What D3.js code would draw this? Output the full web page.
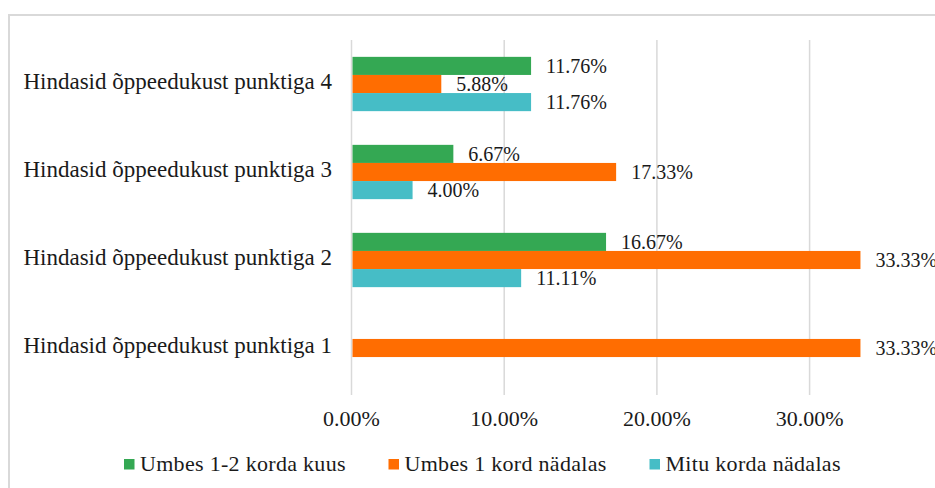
<!DOCTYPE html>
<html>
<head>
<meta charset="utf-8">
<script src="https://cdn.jsdelivr.net/npm/d3@7"></script>
<style>
  body { margin: 0; background: #fff; }
</style>
</head>
<body>
<div id="chart"></div>
<script>
const categories = [
  'Hindasid õppeedukust punktiga 4',
  'Hindasid õppeedukust punktiga 3',
  'Hindasid õppeedukust punktiga 2',
  'Hindasid õppeedukust punktiga 1'
];
const seriesNames = ['Umbes 1-2 korda kuus', 'Umbes 1 kord nädalas', 'Mitu korda nädalas'];
const seriesColors = ['#34a853', '#ff6d01', '#46bdc6'];
// values per category, same order as categories
const kuus = [11.76, 6.67, 16.67, 0];
const kord = [5.88, 17.33, 33.33, 33.33];
const mitu = [11.76, 4.00, 11.11, 0];
const tickValues = [0, 10, 20, 30];

const width = 935, height = 488;
const font = '"Liberation Serif", "Times New Roman", serif';
const svg = d3.select('#chart').append('svg')
  .attr('width', width)
  .attr('height', height)
  .style('font-family', font);

// chart frame (runs off the right / bottom edge like the reference)
svg.append('rect')
  .attr('x', 9).attr('y', 15)
  .attr('width', 1000).attr('height', 600)
  .attr('fill', 'none')
  .attr('stroke', '#d9d9d9')
  .attr('stroke-width', 2);

const x = d3.scaleLinear().domain([0, 40]).range([351.5, 962.3]);
const y = d3.scaleBand().domain(categories).range([40, 392]).paddingInner(0.383).paddingOuter(0.1915);
const inner = d3.scaleBand().domain(seriesNames).range([0, y.bandwidth()]);

// gridlines
svg.append('g')
  .selectAll('line')
  .data(tickValues)
  .enter().append('line')
  .attr('x1', d => x(d)).attr('x2', d => x(d))
  .attr('y1', 40).attr('y2', 395)
  .attr('stroke', '#d9d9d9')
  .attr('stroke-width', 1.5);

// tick labels
svg.append('g')
  .selectAll('text')
  .data(tickValues)
  .enter().append('text')
  .attr('x', d => x(d))
  .attr('y', 426)
  .attr('text-anchor', 'middle')
  .attr('font-size', 22)
  .attr('fill', '#1a1a1a')
  .text(d => d.toFixed(2) + '%');

// category labels
svg.append('g')
  .selectAll('text')
  .data(categories)
  .enter().append('text')
  .attr('x', 332)
  .attr('y', d => y(d) + y.bandwidth() / 2 + 5)
  .attr('text-anchor', 'end')
  .attr('font-size', 23)
  .attr('fill', '#1a1a1a')
  .text(d => d);

const rows = [];
categories.forEach((c, i) => {
  [kuus, kord, mitu].forEach((arr, s) => {
    if (arr[i] > 0) rows.push({ cat: c, s: s, v: arr[i] });
  });
});

svg.append('g')
  .selectAll('rect')
  .data(rows)
  .enter().append('rect')
  .attr('x', x(0) + 1)
  .attr('y', d => y(d.cat) + inner(seriesNames[d.s]))
  .attr('width', d => x(d.v) - x(0) - 1)
  .attr('height', inner.bandwidth())
  .attr('fill', d => seriesColors[d.s]);

svg.append('g')
  .selectAll('text')
  .data(rows)
  .enter().append('text')
  .attr('x', d => x(d.v) + 15)
  .attr('y', d => y(d.cat) + inner(seriesNames[d.s]) + inner.bandwidth() / 2 + 7)
  .attr('font-size', 20)
  .attr('fill', '#1a1a1a')
  .text(d => d.v.toFixed(2) + '%');

// legend
const legendX = [124, 388.5, 649.5];
const legend = svg.append('g')
  .selectAll('g')
  .data(seriesNames)
  .enter().append('g')
  .attr('transform', (d, i) => `translate(${legendX[i]},459)`);
legend.append('rect')
  .attr('width', 10.5).attr('height', 10.5)
  .attr('fill', (d, i) => seriesColors[i]);
legend.append('text')
  .attr('x', 16).attr('y', 11.5)
  .attr('font-size', 22)
  .attr('letter-spacing', 0.3)
  .attr('fill', '#1a1a1a')
  .text(d => d);
</script>
</body>
</html>
